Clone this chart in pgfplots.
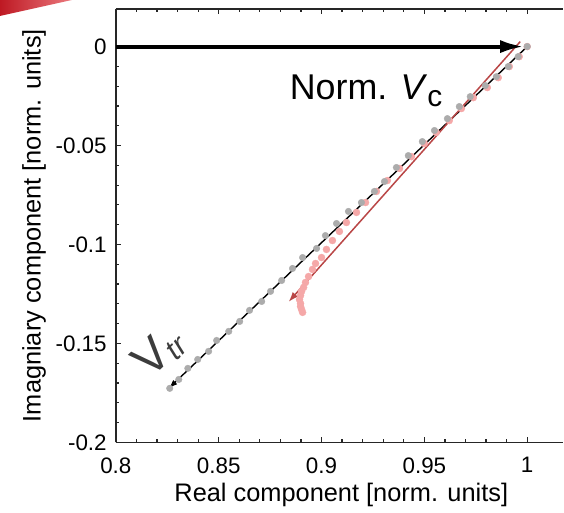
\documentclass[border=0pt]{standalone}
\usepackage{pgfplots}
\pgfplotsset{compat=1.18}
\usepackage{fontspec}
\setmainfont{Liberation Sans}
\usetikzlibrary{arrows.meta}
\definecolor{dotgray}{RGB}{172,172,172}
\definecolor{dotpink}{RGB}{245,168,168}
\definecolor{linered}{RGB}{185,70,70}
\definecolor{vtrgray}{RGB}{60,60,60}
\begin{document}
\begin{tikzpicture}
\begin{axis}[
  scale only axis, width=448bp, height=434bp,
  xmin=0.8, xmax=1.0175, ymin=-0.2, ymax=0.019,
  axis x line*=box, axis y line*=left,
  axis line style={line width=1.6bp, black!85},
  xtick={0.8,0.85,0.9,0.95,1}, ytick={-0.2,-0.15,-0.1,-0.05,0},
  xticklabels={0.8,0.85,0.9,0.95,1}, yticklabels={-0.2,-0.15,-0.1,-0.05,0},
  scaled x ticks=false, scaled y ticks=false,
  minor x tick num=4, minor y tick num=4,
  tick align=inside, major tick length=5bp, minor tick length=3bp,
  tick style={line width=1.2bp, black!85},
  xticklabel style={font=\fontsize{22.5}{22.5}\selectfont, inner sep=0pt, anchor=north, yshift=-15bp},
  yticklabel style={font=\fontsize{22.5}{22.5}\selectfont, inner sep=0pt, anchor=east, xshift=-9bp},
  xlabel={Real component [norm. units]},
  ylabel={Imagniary component [norm. units]},
  every axis x label/.style={at={(axis description cs:0.504,-0.122)}, anchor=center, font=\fontsize{25.5}{25.5}\selectfont},
  every axis y label/.style={at={(axis description cs:-0.183,0.5)}, anchor=center, rotate=90, font=\fontsize{25.5}{25.5}\selectfont},
  clip=false,
]
% pink points
\addplot[only marks, mark=*, mark size=3.5bp, color=dotpink] coordinates {
(1.0000,0.0000) (0.9961,-0.0051) (0.9913,-0.0101) (0.9859,-0.0157) (0.9806,-0.0207)
(0.9738,-0.0258) (0.9680,-0.0313) (0.9621,-0.0374) (0.9558,-0.0434) (0.9500,-0.0490)
(0.9437,-0.0556) (0.9379,-0.0616) (0.9320,-0.0677) (0.9267,-0.0732) (0.9214,-0.0788)
(0.9170,-0.0838) (0.9121,-0.0889) (0.9087,-0.0934) (0.9053,-0.0980) (0.9024,-0.1025)
(0.9000,-0.1066) (0.8971,-0.1096) (0.8956,-0.1126) (0.8937,-0.1162) (0.8922,-0.1192)
(0.8913,-0.1217) (0.8903,-0.1237) (0.8898,-0.1258) (0.8893,-0.1278) (0.8898,-0.1298)
(0.8898,-0.1313) (0.8903,-0.1328) (0.8908,-0.1343)
};
% gray points
\addplot[only marks, mark=*, mark size=3.3bp, color=dotgray] coordinates {
(1.0000,0.0000) (0.9956,-0.0051) (0.9908,-0.0101) (0.9850,-0.0152) (0.9796,-0.0197)
(0.9723,-0.0253) (0.9670,-0.0303) (0.9612,-0.0364) (0.9549,-0.0424) (0.9490,-0.0480)
(0.9422,-0.0551) (0.9364,-0.0611) (0.9306,-0.0682) (0.9257,-0.0732) (0.9194,-0.0788)
(0.9131,-0.0833) (0.9073,-0.0894) (0.9019,-0.0955) (0.8976,-0.1020) (0.8908,-0.1066)
(0.8859,-0.1121) (0.8806,-0.1182) (0.8752,-0.1237) (0.8709,-0.1288) (0.8650,-0.1333)
(0.8602,-0.1389) (0.8549,-0.1439) (0.8490,-0.1485) (0.8451,-0.1540) (0.8398,-0.1581)
(0.8350,-0.1626) (0.8306,-0.1682) (0.8262,-0.1727)
};
% black thin arrow (V_tr)
\addplot[line width=1.4bp, black, -{Latex[length=9bp,width=6bp]}] coordinates {(1.0000,0.0000) (0.8257,-0.1727)};
% red arrow
\addplot[line width=1.5bp, linered, -{Latex[length=10bp,width=7bp]}] coordinates {(0.9966,0.0025) (0.8840,-0.1290)};
% thick black arrow (Norm. V_c)
\addplot[line width=4bp, black, -{Latex[length=24bp,width=13bp]}] coordinates {(0.8000,0.0000) (0.9985,0.0000)};
\node[anchor=base west, inner sep=0pt] at (axis cs:0.8845,-0.0268)
  {\fontsize{36}{36}\selectfont Norm. \textit{V}\raisebox{-7bp}{\fontsize{30}{30}\selectfont c}};
\node[inner sep=0pt, text=vtrgray] at (axis cs:0.8210,-0.1545)
  {\rotatebox{43}{\fontsize{48}{48}\selectfont V\raisebox{-5bp}{\fontsize{30}{30}\selectfont\itshape tr}}};
\end{axis}
\path (current axis.south west) ++(-116bp,-70bp) rectangle ++(564bp,513bp);
\shade[shift={(current axis.south west)}, left color={rgb,255:red,190;green,25;blue,35}, right color={rgb,255:red,235;green,120;blue,125}]
  (-116bp,443bp) -- (-44bp,443bp) -- (-116bp,427bp) -- cycle;
\end{tikzpicture}
\end{document}
